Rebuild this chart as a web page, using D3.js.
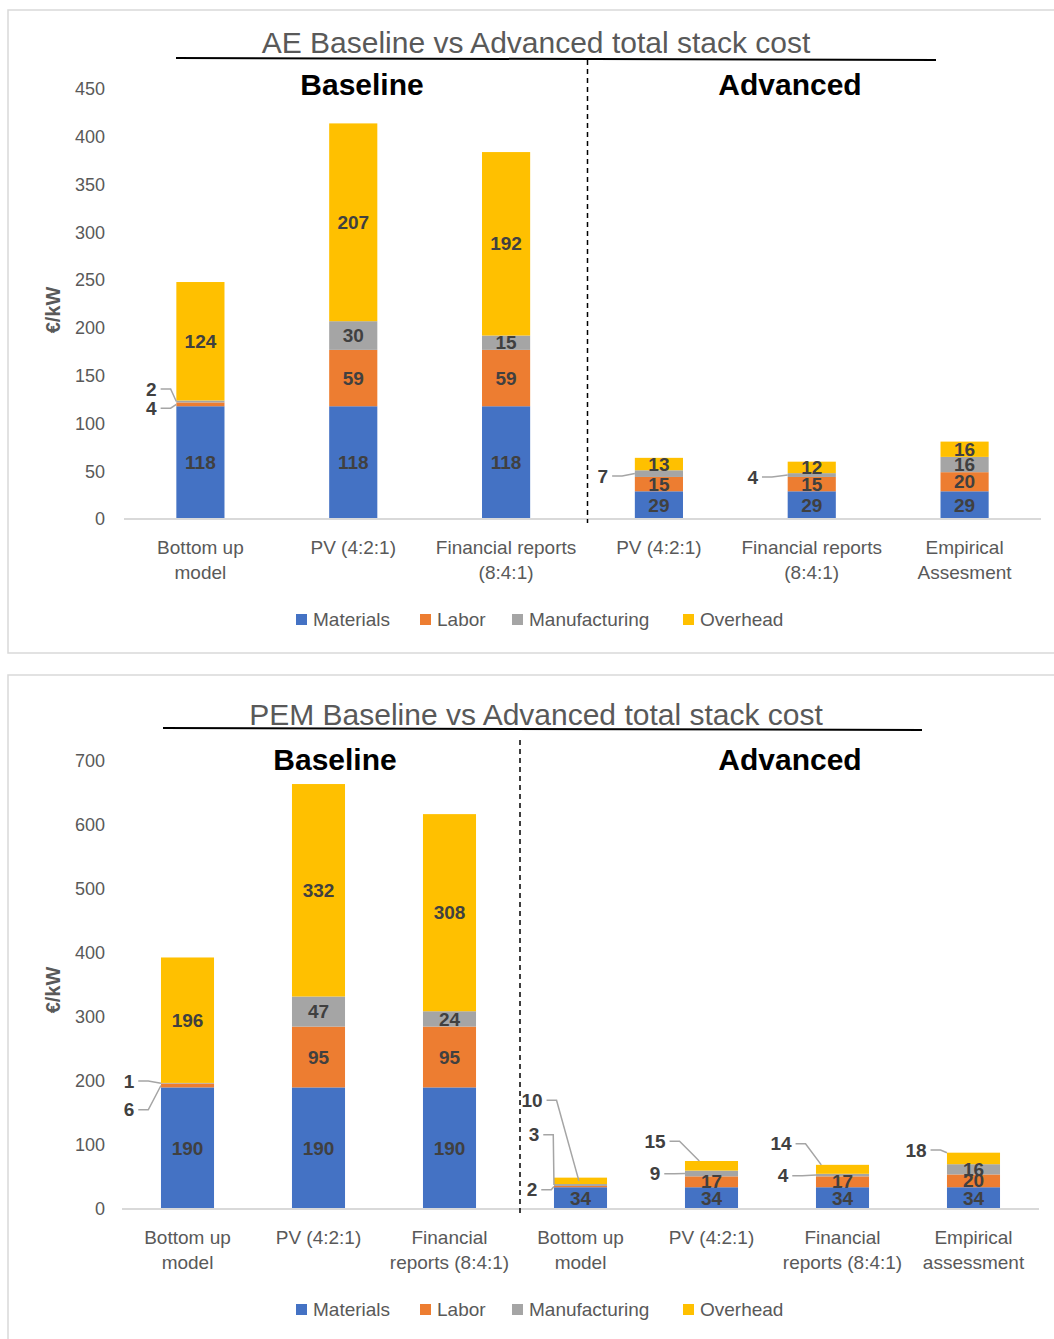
<!DOCTYPE html>
<html>
<head>
<meta charset="utf-8">
<script src="https://cdn.jsdelivr.net/npm/d3@7"></script>
<style>
body{margin:0;background:#fff;}
svg{display:block;font-family:"Liberation Sans Narrow","Liberation Sans",Arial,sans-serif;}
</style>
</head>
<body>
<svg id="chart" width="1054" height="1339"></svg>
<script>
// series
var seriesKeys = ["Materials","Labor","Manufacturing","Overhead"];
var seriesColors = ["#4472C4","#ED7D31","#A5A5A5","#FFC000"];

// AE chart
var aeCategories = [["Bottom up","model"],["PV (4:2:1)"],["Financial reports","(8:4:1)"],["PV (4:2:1)"],["Financial reports","(8:4:1)"],["Empirical","Assesment"]];
var aeMaterials = [118,118,118,29,29,29];
var aeLabor = [4,59,59,15,15,20];
var aeManufacturing = [2,30,15,7,4,16];
var aeOverhead = [124,207,192,13,12,16];
var aeTicks = [0,50,100,150,200,250,300,350,400,450];
// labels drawn outside the bar: [category index, series, label value height, label offset px]
var aeCallouts = [[0,"Manufacturing",136,-25],[0,"Labor",116,-25],[3,"Manufacturing",45,-32],[4,"Manufacturing",44,-35]];

// PEM chart
var pemCategories = [["Bottom up","model"],["PV (4:2:1)"],["Financial","reports (8:4:1)"],["Bottom up","model"],["PV (4:2:1)"],["Financial","reports (8:4:1)"],["Empirical","assessment"]];
var pemMaterials = [190,190,190,34,34,34,34];
var pemLabor = [6,95,95,2,17,17,20];
var pemManufacturing = [1,47,24,3,9,4,16];
var pemOverhead = [196,332,308,10,15,14,18];
var pemTicks = [0,100,200,300,400,500,600,700];
var pemCallouts = [[0,"Manufacturing",200,-32],[0,"Labor",155,-32],[3,"Overhead",170,-22,0.47,"mid"],[3,"Manufacturing",116,-20],[3,"Labor",30,-22],
  [4,"Overhead",106,-30,0.27,"top"],[4,"Manufacturing",55,-30],[5,"Overhead",102,-35,0.1,"top"],[5,"Manufacturing",52,-33],[6,"Overhead",92,-31,0,"top"]];

var svg = d3.select("#chart");
var grey = "#595959", dark = "#404040";

function drawChart(o){
	var g = svg.append("g");
	// panel border
	g.append("path").attr("d","M1054,"+o.top+"H8V"+o.bottom+(o.closed?"H1054":""))
		.attr("fill","none").attr("stroke","#d9d9d9").attr("stroke-width",1.5);

	var rows = o.categories.map(function(c,i){
		return {Materials:o.materials[i],Labor:o.labor[i],Manufacturing:o.manufacturing[i],Overhead:o.overhead[i]};
	});
	var stacked = d3.stack().keys(seriesKeys)(rows);

	var x = d3.scaleBand().domain(d3.range(o.categories.length)).range([o.x0,o.x1]);
	var y = d3.scaleLinear().domain([0,o.ticks[o.ticks.length-1]]).range([o.y0,o.y1]);
	var bw = x.step()*o.barFrac;
	var left = function(i){return x(i)+x.step()/2-bw/2;};

	// y tick labels
	g.selectAll(".yt").data(o.ticks).enter().append("text")
		.attr("x",105).attr("y",function(d){return y(d);}).attr("dy","0.35em")
		.attr("text-anchor","end").attr("fill",grey).style("font-size","18px").text(function(d){return d;});
	g.append("text").attr("transform","translate(60,"+o.ylabY+") rotate(-90)")
		.attr("text-anchor","middle").attr("fill",grey).style("font-size","20px").style("font-weight","bold").text("€/kW");

	// bars
	stacked.forEach(function(s,si){
		g.selectAll(".b"+si).data(s).enter().append("rect")
			.attr("x",function(d,i){return left(i);})
			.attr("y",function(d){return y(d[1]);})
			.attr("width",bw)
			.attr("height",function(d){return y(d[0])-y(d[1]);})
			.attr("fill",seriesColors[si]);
	});

	// axis line
	g.append("line").attr("x1",o.x0).attr("x2",o.x1).attr("y1",y(0)).attr("y2",y(0))
		.attr("stroke","#d9d9d9").attr("stroke-width",2);

	// inside labels
	var outside = {};
	o.callouts.forEach(function(c){outside[c[0]+"_"+c[1]] = true;});
	stacked.forEach(function(s,si){
		s.forEach(function(d,i){
			if(outside[i+"_"+s.key]) return;
			g.append("text").attr("x",left(i)+bw/2).attr("y",y((d[0]+d[1])/2)).attr("dy","0.35em")
				.attr("text-anchor","middle").attr("fill",dark).style("font-size","19px").style("font-weight","bold")
				.text(d[1]-d[0]);
		});
	});

	// callouts
	o.callouts.forEach(function(c){
		var i = c[0], si = seriesKeys.indexOf(c[1]);
		var d = stacked[si][i];
		var lx = left(i)+c[3], ly = y(c[2]);
		var t = g.append("text").attr("x",lx).attr("y",ly).attr("dy","0.35em")
			.attr("text-anchor","middle").attr("fill",dark).style("font-size","19px").style("font-weight","bold")
			.text(d[1]-d[0]);
		var tw = t.node().getComputedTextLength();
		var tx = left(i)+bw*(c[4]||0);
		var ty = c[5]=="top" ? y(d[1]) : y((d[0]+d[1])/2);
		var sx = lx+tw/2+4;
		var ex = Math.min(sx+10,tx);
		g.append("polyline").attr("points",[[sx,ly],[ex,ly],[tx,ty]].join(" "))
			.attr("fill","none").attr("stroke","#A5A5A5").attr("stroke-width",1.5);
	});

	// category labels
	o.categories.forEach(function(lines,i){
		lines.forEach(function(l,li){
			g.append("text").attr("x",x(i)+x.step()/2).attr("y",o.catY+li*25).attr("dy","0.35em")
				.attr("text-anchor","middle").attr("fill",grey).style("font-size","19px").text(l);
		});
	});

	// divider
	var dx = x(3)+o.divShift;
	g.append("line").attr("x1",dx).attr("x2",dx).attr("y1",o.divTop).attr("y2",y(0)+4)
		.attr("stroke","#000").attr("stroke-width",1.5).attr("stroke-dasharray","5,4");

	// titles
	g.append("text").attr("x",536).attr("y",o.titleY).attr("text-anchor","middle")
		.attr("fill",grey).style("font-size","30px").text(o.title);
	g.append("line").attr("x1",o.ulX[0]).attr("x2",o.ulX[1]).attr("y1",o.ulY[0]).attr("y2",o.ulY[1])
		.attr("stroke","#000").attr("stroke-width",2);
	g.append("text").attr("x",o.baseX).attr("y",o.headY).attr("text-anchor","middle")
		.attr("fill","#000").style("font-size","30px").style("font-weight","bold").text("Baseline");
	g.append("text").attr("x",790).attr("y",o.headY).attr("text-anchor","middle")
		.attr("fill","#000").style("font-size","30px").style("font-weight","bold").text("Advanced");

	// legend
	var lg = [296,420,512,683];
	seriesKeys.forEach(function(k,si){
		g.append("rect").attr("x",lg[si]).attr("y",o.legY-5).attr("width",11).attr("height",11).attr("fill",seriesColors[si]);
		g.append("text").attr("x",lg[si]+17).attr("y",o.legY).attr("dy","0.35em")
			.attr("fill",grey).style("font-size","19px").text(k);
	});
}

drawChart({top:10,bottom:653,closed:true,categories:aeCategories,materials:aeMaterials,labor:aeLabor,
	manufacturing:aeManufacturing,overhead:aeOverhead,ticks:aeTicks,callouts:aeCallouts,
	x0:124,x1:1041,y0:519,y1:89,barFrac:0.315,ylabY:310,catY:547,divShift:5,divTop:60,
	title:"AE Baseline vs Advanced total stack cost",titleY:53,ulX:[176,936],ulY:[58,60],baseX:362,headY:95,legY:619});

drawChart({top:675,bottom:1339,closed:false,categories:pemCategories,materials:pemMaterials,labor:pemLabor,
	manufacturing:pemManufacturing,overhead:pemOverhead,ticks:pemTicks,callouts:pemCallouts,
	x0:122,x1:1039,y0:1209,y1:761,barFrac:0.405,ylabY:990,catY:1237,divShift:5,divTop:740,
	title:"PEM Baseline vs Advanced total stack cost",titleY:725,ulX:[163,922],ulY:[728,730],baseX:335,headY:770,legY:1309});
</script>
</body>
</html>
